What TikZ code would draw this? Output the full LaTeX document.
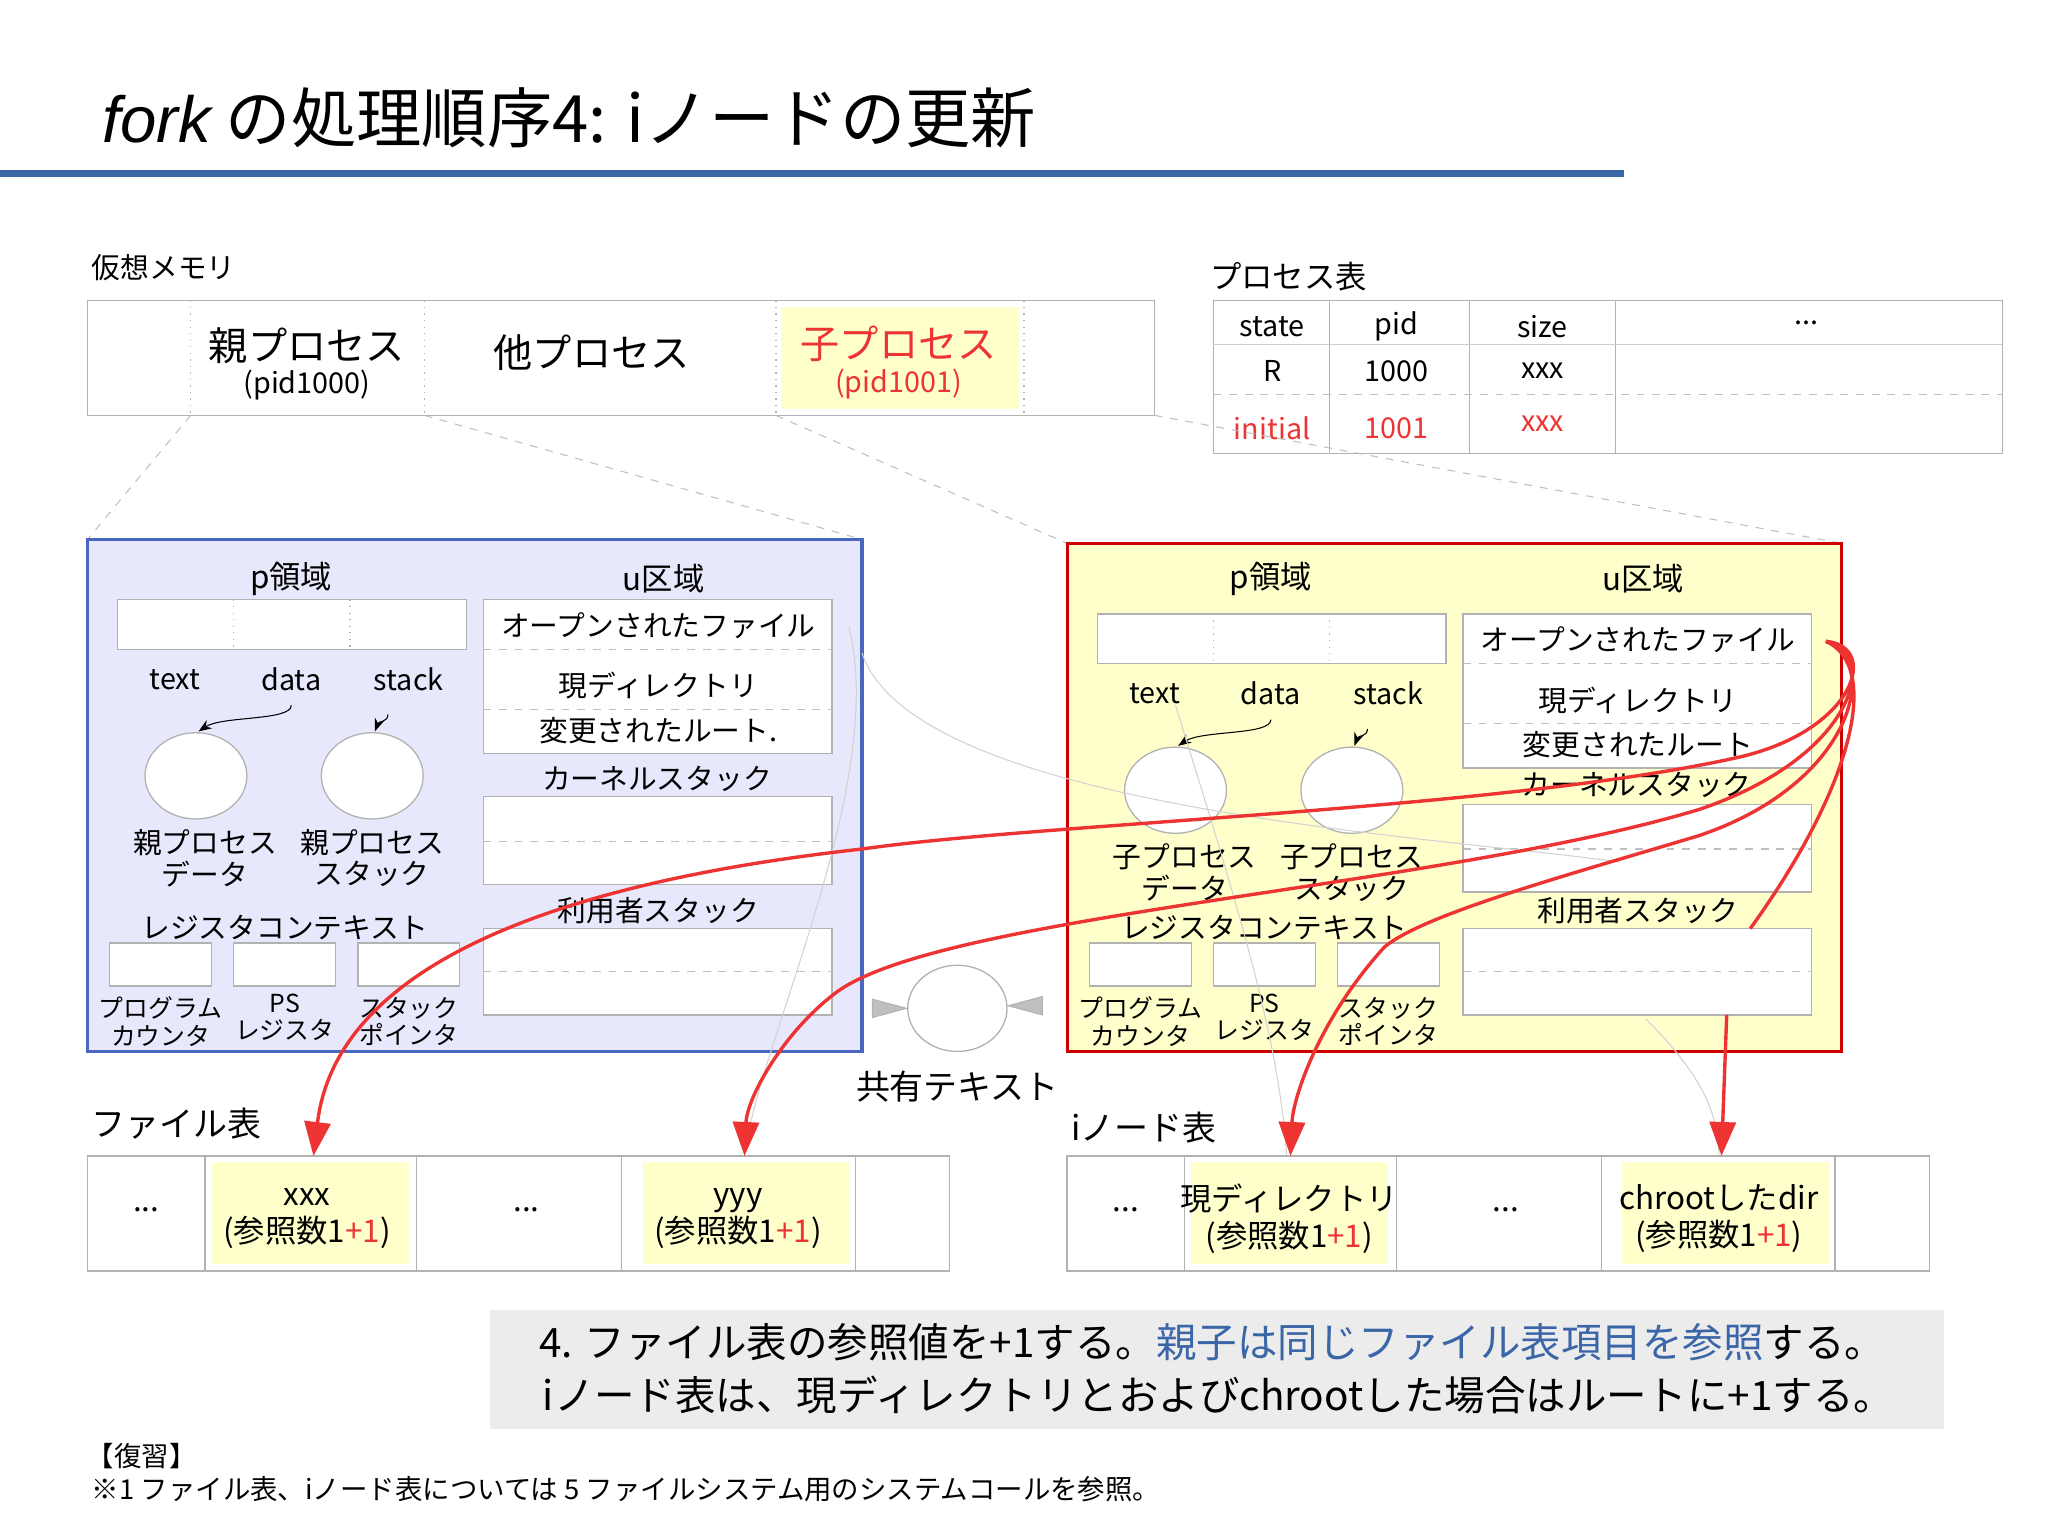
\documentclass[tikz,border=0pt]{standalone}
\usepackage{fontspec}
\setmainfont{Noto Sans CJK JP}
\newfontfamily\latfont{Liberation Sans}
\usetikzlibrary{arrows.meta}
\definecolor{ttl}{HTML}{3A66A8}
\definecolor{lav}{HTML}{E8E8FC}
\definecolor{lyel}{HTML}{FFFFCC}
\definecolor{bred}{HTML}{CC0000}
\definecolor{ared}{HTML}{EE3333}
\definecolor{bblue}{HTML}{4A66C0}
\newcommand{\fz}[1]{\fontsize{#1}{#1}\selectfont}
\tikzset{
 t/.style={inner sep=0pt,align=center,font=\fz{11}},
 t2/.style={inner sep=0pt,align=center,font=\fz{11},execute at begin node={\setlength{\baselineskip}{12pt}}},
 ts/.style={inner sep=0pt,align=center,font=\fz{9.5},execute at begin node={\setlength{\baselineskip}{10.5pt}}},
 tt/.style={inner sep=0pt,align=center,font=\fz{12},execute at begin node={\setlength{\baselineskip}{14pt}}},
 wbox/.style={draw=gray!60,fill=white,line width=0.5pt},
 dv/.style={draw=gray!60,dotted,line width=0.5pt},
 dl/.style={draw=gray!50,dashed,line width=0.4pt},
 rarr/.style={draw=ared,line width=1.3pt,-{Triangle[length=13pt,width=10pt]}},
 sarr/.style={draw=black,line width=0.4pt,-{Stealth[length=5pt]}},
 faint/.style={draw=gray!35,line width=0.4pt},
}
\begin{document}
\begin{tikzpicture}[x=0.5pt,y=-0.5pt]
\useasboundingbox[fill=white] (0,0) rectangle (1568,1175);
% title
\node[anchor=west,inner sep=0pt,font=\fz{25}] (title) at (78,90) {{\latfont\itshape fork} の処理順序4: iノードの更新};
\draw[ttl,line width=2.5pt] (0,133) -- (1243,133);
% virtual memory
\node[t,anchor=west] (vmt) at (70,205) {仮想メモリ};
\fill[lyel] (598,235) rectangle (780,313);
\draw[wbox,fill=none] (67,230) rectangle (884,318);
\foreach \x in {146,325,594,784} \draw[dv] (\x,230) -- (\x,318);
\node[t,font=\fz{15}] (pp) at (235,265) {親プロセス};
\node[t] (ppid) at (235,295) {(pid1000)};
\node[t,font=\fz{15}] (op) at (453,270) {他プロセス};
\node[t,font=\fz{15},text=ared] (cp) at (688,263) {子プロセス};
\node[t,text=ared] (cpid) at (688,294) {(pid1001)};
% process table
\node[t,font=\fz{12},anchor=west] (ptt) at (926,212) {プロセス表};
\draw[wbox,fill=none] (929,230) rectangle (1533,347);
\foreach \x in {1018,1125,1237} \draw[gray!60,line width=0.5pt] (\x,230) -- (\x,347);
\draw[gray!40,line width=0.4pt] (929,264) -- (1533,264);
\draw[dl] (929,302) -- (1533,302);
\node[t] (h1) at (974,250) {state};\node[t] (h2) at (1069,250) {pid};
\node[t] (h3) at (1181,250) {size};\node[t] (h4) at (1383,247) {...};
\node[t] (r1) at (974,284) {R};\node[t] (r2) at (1069,284) {1000};\node[t] (r3) at (1181,284) {xxx};
\node[t,text=ared] (s1) at (974,328) {initial};\node[t,text=ared] (s2) at (1069,328) {1001};\node[t,text=ared] (s3) at (1181,324) {xxx};
% dashed guide lines
\draw[dl] (146,318) -- (67,413);
\draw[dl] (325,318) -- (660,413);
\draw[dl] (594,318) -- (817,416);
\draw[dl] (884,318) -- (1410,416);
% left box
\draw[bblue,fill=lav,line width=1.2pt] (67,413) rectangle (660,805);
\node[t,font=\fz{12}] (lp) at (223,443) {p領域};
\node[t,font=\fz{12}] (lu) at (508,443) {u区域};
\draw[wbox] (90,459) rectangle (357,497);
\draw[dv] (179,459)--(179,497); \draw[dv] (268,459)--(268,497);
\node[t] (lt1) at (134,520) {text};\node[t] (lt2) at (223,520) {data};\node[t] (lt3) at (313,520) {stack};
\draw[wbox] (150,594) ellipse (39 and 33);
\draw[wbox] (285,594) ellipse (39 and 33);
\coordinate (ld1) at (223,540); \coordinate (lc1) at (152,560);
\coordinate (ld2) at (297,547); \coordinate (lc2) at (287,560);
\draw[sarr] (ld1) .. controls (223,552) and (170,548) .. (lc1);
\draw[sarr] (ld2) .. controls (297,553) and (290,552) .. (lc2);
\node[t2] (lpd) at (157,657) {親プロセス\\データ};
\node[t2] (lps) at (285,657) {親プロセス\\スタック};
\node[t] (lrc) at (218,710) {レジスタコンテキスト};
\draw[wbox] (84,722) rectangle (162,755);
\draw[wbox] (179,722) rectangle (257,755);
\draw[wbox] (274,722) rectangle (352,755);
\node[ts] (l1) at (123,782) {プログラム\\カウンタ};
\node[ts] (l2) at (218,779) {PS\\レジスタ};
\node[ts] (l3) at (313,782) {スタック\\ポインタ};
\draw[wbox] (370,459) rectangle (637,577);
\draw[dl] (370,497)--(637,497); \draw[dl] (370,543)--(637,543);
\node[t] (lo) at (504,479) {オープンされたファイル};
\node[t] (lcd) at (504,525) {現ディレクトリ};
\node[t] (lr) at (504,559) {変更されたルート.};
\node[t] (lks) at (503,596) {カーネルスタック};
\draw[wbox] (370,610) rectangle (637,677); \draw[dl] (370,644)--(637,644);
\node[t] (lus) at (504,697) {利用者スタック};
\draw[wbox] (370,711) rectangle (637,777); \draw[dl] (370,744)--(637,744);
% right box
\draw[bred,fill=lyel,line width=1.2pt] (817,416) rectangle (1410,805);
\node[t,font=\fz{12}] (rp) at (973,443) {p領域};
\node[t,font=\fz{12}] (ru) at (1258,443) {u区域};
\draw[wbox] (840,470) rectangle (1107,508);
\draw[dv] (929,470)--(929,508); \draw[dv] (1018,470)--(1018,508);
\node[t] (rt1) at (884,531) {text};\node[t] (rt2) at (973,531) {data};\node[t] (rt3) at (1063,531) {stack};
\draw[wbox] (900,605) ellipse (39 and 33);
\draw[wbox] (1035,605) ellipse (39 and 33);
\coordinate (rd1) at (973,551); \coordinate (rc1) at (902,571);
\coordinate (rd2) at (1047,558); \coordinate (rc2) at (1037,571);
\draw[sarr] (rd1) .. controls (973,563) and (920,559) .. (rc1);
\draw[sarr] (rd2) .. controls (1047,564) and (1040,563) .. (rc2);
\node[t2] (rpd) at (907,668) {子プロセス\\データ};
\node[t2] (rps) at (1035,668) {子プロセス\\スタック};
\node[t] (rrc) at (968,710) {レジスタコンテキスト};
\draw[wbox] (834,722) rectangle (912,755);
\draw[wbox] (929,722) rectangle (1007,755);
\draw[wbox] (1024,722) rectangle (1102,755);
\node[ts] (r1b) at (873,782) {プログラム\\カウンタ};
\node[ts] (r2b) at (968,779) {PS\\レジスタ};
\node[ts] (r3b) at (1063,782) {スタック\\ポインタ};
\draw[wbox] (1120,470) rectangle (1387,588);
\draw[dl] (1120,508)--(1387,508); \draw[dl] (1120,554)--(1387,554);
\node[t] (ro) at (1254,490) {オープンされたファイル};
\node[t] (rcd) at (1254,536) {現ディレクトリ};
\node[t] (rr) at (1254,570) {変更されたルート};
\node[t] (rks) at (1253,601) {カーネルスタック};
\draw[wbox] (1120,616) rectangle (1387,683); \draw[dl] (1120,650)--(1387,650);
\node[t] (rus) at (1254,697) {利用者スタック};
\draw[wbox] (1120,711) rectangle (1387,777); \draw[dl] (1120,744)--(1387,744);
% faint gray curves
\draw[faint] (650,480) .. controls (680,600) and (580,800) .. (570,885);
\draw[faint] (660,500) .. controls (700,620) and (1100,640) .. (1240,660);
\draw[faint] (900,540) .. controls (950,700) and (980,800) .. (985,885);
\draw[faint] (1260,780) .. controls (1300,820) and (1316,850) .. (1316,885);
% shared text
\draw[wbox] (733,772) ellipse (38 and 33) node[inner sep=0pt] (sh) {};
\draw[gray!60,fill=gray!50] (668,765) -- (694,772) -- (668,779) -- cycle;
\draw[gray!60,fill=gray!50] (798,763) -- (772,770) -- (798,777) -- cycle;
\node[t,font=\fz{13}] (sht) at (733,832) {共有テキスト};
% file table
\node[t,font=\fz{13},anchor=west] (ftt) at (70,860) {ファイル表};
\fill[lyel] (162,890) rectangle (313,968);
\fill[lyel] (492,890) rectangle (650,968);
\draw[wbox,fill=none] (67,885) rectangle (727,973);
\foreach \x in {157,319,476,655} \draw[gray!60,line width=0.5pt] (\x,885) -- (\x,973);
\node[tt] (f1) at (112,926) {...};
\node[tt] (f2) at (235,933) {xxx\\(参照数1{\color{ared}+1})};
\node[tt] (f3) at (403,926) {...};
\node[tt] (f4) at (565,933) {yyy\\(参照数1{\color{ared}+1})};
% inode table
\node[t,font=\fz{13},anchor=west] (itt) at (820,863) {iノード表};
\fill[lyel] (912,890) rectangle (1063,968);
\fill[lyel] (1242,890) rectangle (1400,968);
\draw[wbox,fill=none] (817,885) rectangle (1477,973);
\foreach \x in {907,1069,1226,1405} \draw[gray!60,line width=0.5pt] (\x,885) -- (\x,973);
\node[tt] (i1) at (862,926) {...};
\node[tt] (i2) at (987,933) {現ディレクトリ\\(参照数1{\color{ared}+1})};
\node[tt] (i3) at (1153,926) {...};
\node[tt] (i4) at (1316,933) {chrootしたdir\\(参照数1{\color{ared}+1})};
% red arrows
\coordinate (s) at (1398,491);
\coordinate (e1) at (240,885);\coordinate (e2) at (570,885);
\coordinate (e3) at (988,885);\coordinate (e4) at (1318,885);
\draw[rarr] (s) .. controls (1440,495) and (1420,560) .. (1330,580) .. controls (1150,620) and (800,630) .. (660,650) .. controls (480,670) and (260,720) .. (e1);
\draw[rarr] (s) .. controls (1440,500) and (1420,580) .. (1300,620) .. controls (1100,680) and (720,700) .. (640,760) .. controls (600,790) and (572,840) .. (e2);
\draw[rarr] (s) .. controls (1440,505) and (1420,600) .. (1300,640) .. controls (1200,670) and (1090,700) .. (1060,725) .. controls (1010,780) and (990,840) .. (e3);
\draw[ared,line width=1.3pt] (s) .. controls (1440,510) and (1420,600) .. (1340,711);
\draw[rarr] (1322,777) -- (e4);
% bottom note
\fill[gray!15] (375,1003) rectangle (1488,1094);
\node[inner sep=0pt,font=\fz{15.5}] (n1) at (928,1028) {4. ファイル表の参照値を+1する。{\color{ttl}親子は同じファイル表項目を参照}する。};
\node[inner sep=0pt,font=\fz{15.5}] (n2) at (933,1068) {iノード表は、現ディレクトリとおよびchrootした場合はルートに+1する。};
\node[inner sep=0pt,font=\fz{10.5},anchor=west] (rv) at (66,1115) {【復習】};
\node[inner sep=0pt,font=\fz{10.5},anchor=west] (rv2) at (70,1140) {※1 ファイル表、iノード表については 5 ファイルシステム用のシステムコールを参照。};
\end{tikzpicture}
\end{document}
